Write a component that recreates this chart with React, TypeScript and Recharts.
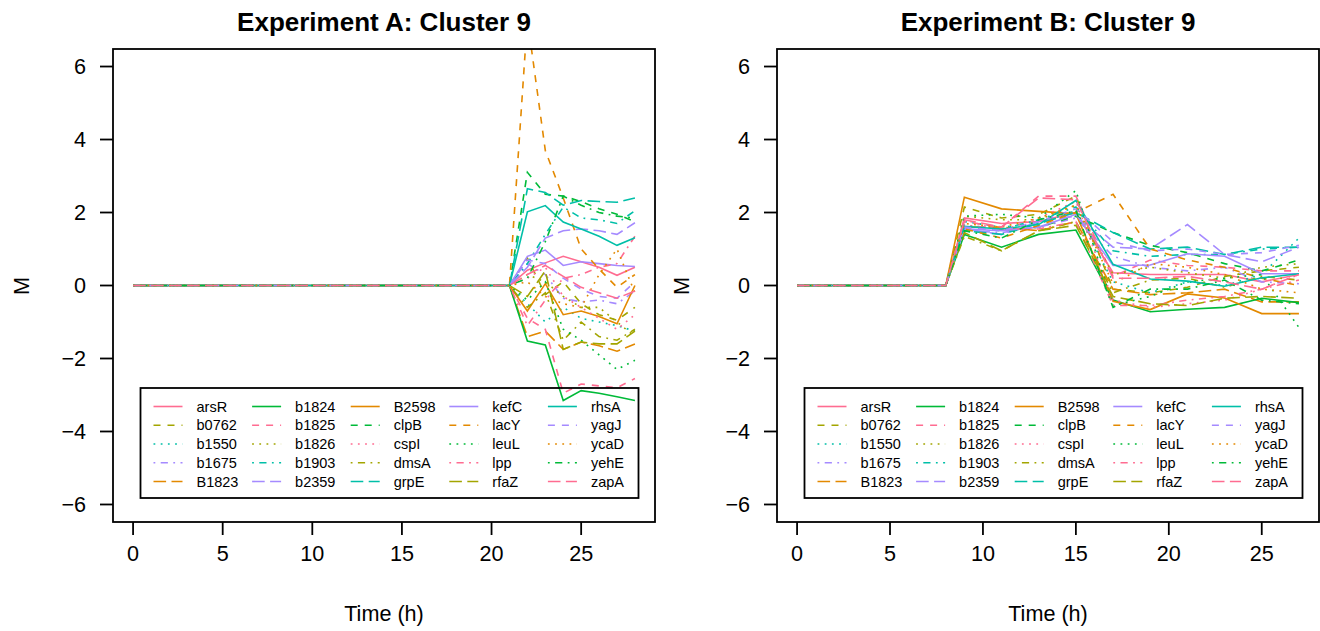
import React from "react";
import { LineChart, Line, XAxis, YAxis } from "recharts";

const GENES = [
  "arsR", "b0762", "b1550", "b1675", "B1823",
  "b1824", "b1825", "b1826", "b1903", "b2359",
  "B2598", "clpB", "cspI", "dmsA", "grpE",
  "kefC", "lacY", "leuL", "lpp", "rfaZ",
  "rhsA", "yagJ", "ycaD", "yehE", "zapA",
];

// colour cycles every 6 genes, line type every 5 (matplot style)
const COLORS = ["#FF6C91", "#A3A500", "#00BFA8", "#A58AFF", "#E38900", "#00BA38"];
const DASHES = ["", "7 7", "1.8 5.4", "1.8 5.4 7.2 5.4", "12.6 5.4"];

const X_TICKS = [0, 5, 10, 15, 20, 25];
const Y_TICKS = [-6, -4, -2, 0, 2, 4, 6];

// Experiment A: flat until 21 h, then hourly
const TIME_A = [0, 21, 22, 23, 24, 25, 26, 27, 28];
const M_A = [
  [0, 0, 0.42, 0.62, 0.8, 0.65, 0.5, 0.28, 0.5], // arsR
  [0, 0, 0.75, -0.25, 0.1, -0.5, -0.8, -0.95, -0.6], // b0762
  [0, 0, -0.5, -1.0, -0.6, -0.9, -1.0, -1.1, -1.25], // b1550
  [0, 0, 0.6, 0.3, -0.35, -0.45, -0.4, -0.5, -0.15], // b1675
  [0, 0, -1.4, -1.25, -1.75, -1.55, -1.65, -1.8, -1.6], // B1823
  [0, 0, -1.52, -1.63, -3.15, -2.88, -2.95, -3.05, -3.15], // b1824
  [0, 0, -0.9, -1.2, -2.95, -2.7, -2.75, -2.8, -2.55], // b1825
  [0, 0, 0.3, 0.1, -0.3, -0.6, -0.6, -1.0, -1.4], // b1826
  [0, 0, 0.6, 1.4, 2.15, 1.85, 1.8, 1.7, 2.05], // b1903
  [0, 0, 0.5, 1.3, 1.5, 1.55, 1.5, 1.4, 1.72], // b2359
  [0, 0, -0.7, 0.05, -0.8, -0.7, -0.85, -1.05, 0.0], // B2598
  [0, 0, 3.1, 2.5, 2.45, 2.3, 2.1, 1.95, 1.75], // clpB
  [0, 0, 0.2, 0.5, -0.3, -0.6, -0.9, -1.2, -0.8], // cspI
  [0, 0, -0.6, -0.2, -1.5, -1.0, -1.4, -1.5, -1.2], // dmsA
  [0, 0, 2.65, 2.55, 2.2, 2.33, 2.3, 2.28, 2.4], // grpE
  [0, 0, 0.8, 0.97, 0.55, 0.65, 0.6, 0.55, 0.52], // kefC
  [0, 0, 7.3, 3.7, 2.4, 1.0, 0.45, -0.05, 0.3], // lacY
  [0, 0, -0.4, 0.1, -1.2, -1.5, -1.9, -2.3, -2.05], // leuL
  [0, 0, -1.1, -0.4, 0.2, 0.3, 0.5, 0.6, 1.35], // lpp
  [0, 0, -0.3, 0.4, -1.75, -1.55, -1.6, -1.6, -1.25], // rfaZ
  [0, 0, 2.02, 2.19, 1.74, 1.55, 1.35, 1.1, 1.31], // rhsA
  [0, 0, 0.7, 0.6, 0.2, -0.1, -0.3, -0.35, 0.1], // yagJ
  [0, 0, 0.1, -0.3, -0.5, -0.6, 0.3, 1.0, -0.2], // ycaD
  [0, 0, 0.2, 1.2, 2.45, 2.2, 2.0, 1.9, 1.85], // yehE
  [0, 0, 0.3, 0.55, 0.25, -0.05, -0.2, -0.35, -0.15], // zapA
];

// Experiment B: flat until 8 h, then every 2 h
const TIME_B = [0, 8, 9, 11, 13, 15, 17, 19, 21, 23, 25, 27];
const M_B = [
  [0, 0, 1.85, 1.7, 1.75, 2.0, 0.35, 0.3, 0.3, 0.3, 0.1, 0.3], // arsR
  [0, 0, 2.15, 1.85, 1.95, 2.45, -0.1, -0.2, -0.05, 0.25, 0.4, 0.5], // b0762
  [0, 0, 1.75, 1.6, 1.7, 2.05, 0.1, -0.2, 0.1, 0.0, 0.3, 1.3], // b1550
  [0, 0, 1.5, 1.45, 1.6, 1.85, 0.8, 0.5, 0.4, 0.5, 0.1, 0.05], // b1675
  [0, 0, 1.6, 1.6, 1.5, 1.75, -0.1, -0.25, -0.2, -0.1, -0.45, -0.45], // B1823
  [0, 0, 1.4, 1.05, 1.4, 1.52, -0.4, -0.72, -0.65, -0.6, -0.35, -0.47], // b1824
  [0, 0, 1.75, 1.6, 2.45, 2.45, 0.25, 0.7, 0.55, 0.5, 0.4, 0.4], // b1825
  [0, 0, 1.9, 1.8, 1.8, 2.2, 0.3, 0.5, 0.35, 0.2, 0.5, 0.6], // b1826
  [0, 0, 1.65, 1.55, 1.8, 2.15, 0.95, 0.8, 0.85, 0.85, 1.0, 1.05], // b1903
  [0, 0, 1.55, 1.4, 1.75, 1.9, 1.05, 1.0, 1.67, 0.85, 0.65, 1.05], // b2359
  [0, 0, 2.42, 2.1, 2.03, 1.97, -0.43, -0.66, -0.23, -0.34, -0.77, -0.77], // B2598
  [0, 0, 1.6, 1.5, 1.6, 1.9, 1.45, 1.1, 0.9, 0.6, 0.4, 0.7], // clpB
  [0, 0, 1.8, 1.5, 1.85, 2.3, -0.4, -0.6, -0.5, -0.4, -0.1, 0.3], // cspI
  [0, 0, 1.35, 0.95, 1.5, 1.75, -0.2, 0.15, 0.2, -0.05, 0.25, 0.15], // dmsA
  [0, 0, 1.5, 1.4, 1.7, 2.0, 1.45, 1.0, 1.05, 0.85, 1.05, 1.05], // grpE
  [0, 0, 1.55, 1.5, 1.6, 1.95, 0.55, 0.56, 0.87, 0.8, 0.32, 0.32], // kefC
  [0, 0, 1.55, 1.3, 1.65, 2.0, 2.5, 1.0, 0.7, 0.5, 0.2, 0.0], // lacY
  [0, 0, 1.9, 1.95, 1.85, 2.6, -0.55, -0.3, 0.1, 0.2, 0.3, -1.15], // leuL
  [0, 0, 1.65, 1.55, 1.55, 1.75, -0.55, -0.55, -0.4, -0.3, -0.1, 0.15], // lpp
  [0, 0, 1.45, 0.95, 1.5, 1.65, -0.3, -0.5, -0.55, -0.35, -0.3, -0.35], // rfaZ
  [0, 0, 1.62, 1.55, 1.67, 2.33, 0.58, 0.18, 0.12, -0.02, 0.21, 0.32], // rhsA
  [0, 0, 1.6, 1.5, 1.75, 2.1, 1.2, 0.95, 1.0, 0.85, 0.9, 1.1], // yagJ
  [0, 0, 1.7, 1.6, 1.85, 2.2, 0.05, 0.6, 0.5, 0.3, -0.1, -0.2], // ycaD
  [0, 0, 1.5, 1.3, 1.8, 2.05, -0.6, -0.1, -0.1, 0.15, -0.4, -0.5], // yehE
  [0, 0, 1.8, 1.6, 2.4, 2.35, 0.2, 0.2, 0.25, 0.1, -0.1, 0.3], // zapA
];

const FONT = "'Liberation Sans', Arial, Helvetica, sans-serif";
const W = 660;
const H = 631;
const TOP = 49;
const BOTTOM = 522;
const LW = 1.6;

const fmt = (v: number) => String(v).replace("-", "\u2212");

type PanelProps = {
  title: string;
  times: number[];
  values: number[][];
  xMax: number;
  plotLeft: number;
  plotRight: number;
};

function Panel({ title, times, values, xMax, plotLeft, plotRight }: PanelProps) {
  const rows = times.map((t, i) => {
    const r: Record<string, number> = { t };
    GENES.forEach((g, k) => (r[g] = values[k][i]));
    return r;
  });
  const pad = xMax * 0.04;
  const cx = (plotLeft + plotRight) / 2;
  const legX = plotLeft + 27.5;
  const legY = 388;

  return (
    <div style={{ position: "relative", width: W, height: H }}>
      <LineChart
        width={W}
        height={H}
        data={rows}
        margin={{ top: TOP, right: W - plotRight, bottom: H - BOTTOM - 50, left: plotLeft - 50 }}
      >
        <XAxis
          dataKey="t"
          type="number"
          domain={[-pad, xMax + pad]}
          allowDataOverflow
          ticks={X_TICKS}
          interval={0}
          height={50}
          axisLine={false}
          tickSize={13}
          tickMargin={11}
          tickLine={{ stroke: "#000", strokeWidth: 1.8 }}
          tick={{ fill: "#000", fontSize: 21.6, fontFamily: FONT }}
        />
        <YAxis
          type="number"
          domain={[-6.48, 6.48]}
          allowDataOverflow
          ticks={Y_TICKS}
          interval={0}
          width={50}
          axisLine={false}
          tickSize={13}
          tickMargin={14}
          tickFormatter={fmt}
          tickLine={{ stroke: "#000", strokeWidth: 1.8 }}
          tick={{ fill: "#000", fontSize: 21.6, fontFamily: FONT }}
        />
        {GENES.map((g, k) => (
          <Line
            key={g}
            dataKey={g}
            type="linear"
            stroke={COLORS[k % 6]}
            strokeWidth={LW}
            strokeDasharray={DASHES[k % 5] || undefined}
            dot={false}
            activeDot={false}
            isAnimationActive={false}
          />
        ))}
      </LineChart>
      <svg
        width={W}
        height={H}
        style={{ position: "absolute", left: 0, top: 0, pointerEvents: "none" }}
        fontFamily={FONT}
      >
        <rect
          x={plotLeft}
          y={TOP}
          width={plotRight - plotLeft}
          height={BOTTOM - TOP}
          fill="none"
          stroke="#000"
          strokeWidth={1.8}
        />
        <text x={cx} y={31} textAnchor="middle" fontSize={26} fontWeight="bold">
          {title}
        </text>
        <text x={cx} y={621} textAnchor="middle" fontSize={21.6}>
          Time (h)
        </text>
        <text x={29} y={286} textAnchor="middle" fontSize={21.6} transform="rotate(-90 29 286)">
          M
        </text>
        <rect x={legX} y={legY} width={498} height={110} fill="none" stroke="#000" strokeWidth={1.8} />
        {GENES.map((g, k) => {
          const col = Math.floor(k / 5);
          const row = k % 5;
          const x0 = legX + 13 + col * 98.6;
          const y0 = legY + 18.5 + row * 18.75;
          return (
            <g key={g}>
              <line
                x1={x0}
                x2={x0 + 29}
                y1={y0}
                y2={y0}
                stroke={COLORS[k % 6]}
                strokeWidth={LW}
                strokeDasharray={DASHES[k % 5] || undefined}
              />
              <text x={x0 + 43} y={y0 + 5} fontSize={14.5}>
                {g}
              </text>
            </g>
          );
        })}
      </svg>
    </div>
  );
}

export default function App() {
  return (
    <div style={{ display: "flex", width: 1320, height: 631, background: "#fff" }}>
      <style>{"body{margin:0}"}</style>
      <Panel
        title="Experiment A: Cluster 9"
        times={TIME_A}
        values={M_A}
        xMax={28}
        plotLeft={113}
        plotRight={655}
      />
      <Panel
        title="Experiment B: Cluster 9"
        times={TIME_B}
        values={M_B}
        xMax={27}
        plotLeft={117}
        plotRight={659}
      />
    </div>
  );
}
